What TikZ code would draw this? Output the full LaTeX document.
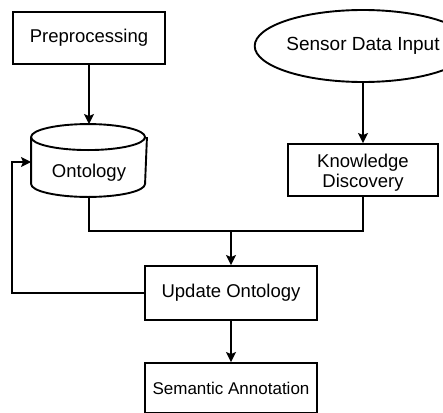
\documentclass[tikz,border=0pt]{standalone}
\usepackage{fontspec}
\setmainfont{Liberation Sans}
\usetikzlibrary{arrows.meta,shapes.geometric,calc}
\begin{document}
\begin{tikzpicture}[x=1pt,y=-1pt,
  line width=1.9pt,
  font=\fontsize{18.5}{21}\selectfont,
  flow/.style={-{Stealth[length=10pt,width=10pt,inset=2pt]}},
  stepbox/.style={draw,rectangle,inner sep=0pt,align=center},
  startend/.style={draw,ellipse,inner sep=0pt}]
\useasboundingbox[fill=white] (0,0) rectangle (443,412);

% process boxes
\node[stepbox,minimum width=152pt,minimum height=52pt] (pre) at (89,38) {Preprocessing};
\node[startend,minimum width=172pt,minimum height=72pt] (sens) at (363,46) {\fontsize{19}{21}\selectfont Sensor Data Input};
\node[stepbox,minimum width=150pt,minimum height=52pt] (kd) at (363,170) {\rule{0pt}{19pt}Knowledge\\[-1pt]Discovery};
\node[stepbox,minimum width=172pt,minimum height=54pt] (upd) at (231,293) {Update Ontology};
\node[stepbox,minimum width=172pt,minimum height=50pt] (sem) at (231,388) {\fontsize{17}{20}\selectfont Semantic Annotation};

% ontology store drawn as a cylinder
\node[minimum width=114pt,minimum height=71pt,inner sep=0pt] (onto) at (89,160.5) {};
\node at (89,173) {Ontology};
\draw ($(onto.north west)+(0,13)$) arc[start angle=180,end angle=360,x radius=57,y radius=-13]
      arc[start angle=0,end angle=180,x radius=57,y radius=-13]
      -- ($(onto.south west)+(0,-13)$)
      arc[start angle=180,end angle=360,x radius=57,y radius=-13]
      -- ($(onto.north east)+(0,13)$);
\coordinate (ontoin) at ($(onto.west)+(0,1.5)$);

% connectors
\coordinate (join) at (231,231);
\draw[flow] (pre.south) -- (onto.north);
\draw[flow] (sens.south) -- (kd.north);
\draw (onto.south) |- (join) -| (kd.south);
\draw[flow] (join) -- (upd.north);
\draw[flow] (upd.south) -- (sem.north);
\draw[flow] (upd.west) -- ++(-132,0) |- (ontoin);
\end{tikzpicture}
\end{document}
